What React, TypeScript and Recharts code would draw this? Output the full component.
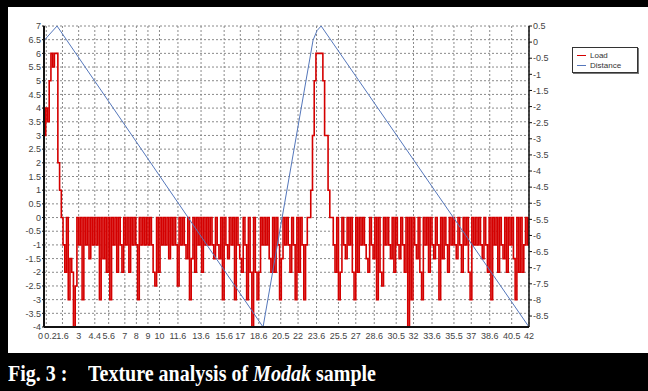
import React from 'react';
import { ComposedChart, Line, XAxis, YAxis, CartesianGrid } from 'recharts';

// Load (left axis), sampled every SAMPLE_STEP seconds
const LOAD: number[] = [
  3, 4, 3.5, 5, 6, 5.5, 6, 6, 2, 1,
  0, -1, -2, 0, -3, -1.5, -2, -4, -2.5, 0,
  -1, 0, -3, 0, -1, 0, -1.5, 0, -1, 0,
  -1, 0, -3, 0, -1.5, 0, -2, 0, -3, 0,
  -1, 0, -2, 0, -1, -2, 0, -1, 0, -2,
  0, -1, 0, -1, -3, 0, -1, 0, -1, 0,
  -1, 0, -1, -2, -2.5, 0, -2, 0, -1, 0,
  -1, 0, -1.5, 0, -1, 0, -1, -2.5, 0, -1,
  0, -1, -1.5, 0, -3, -1.5, 0, -2, 0, -1,
  0, -2, 0, -1, 0, -1, 0, -1, -1.5, 0,
  -1, -1.5, 0, -3, 0, -1, -1.5, 0, -1, 0,
  -3, 0, -1, -1.5, -2, 0, -1, -3, 0, -2,
  -4, 0, -2, -3, -2, 0, -1, 0, -1, 0,
  -1.5, -2, 0, -2, 0, -1, -3, -1.5, 0, -1,
  0, -1, -2, 0, -1, -3, 0, -2, 0, -1,
  -3, -1, 0, 0, 1, 3, 5, 6, 6, 6,
  6, 5, 3, 3, 1, 0, 0, -1, -2, 0,
  -3, -2, 0, -1, -1.5, 0, -1, 0, -2, -3,
  0, -2, 0, -1, 0, -1, -1.5, -2, 0, -1,
  -1.5, 0, -3, 0, -2, -2.5, 0, -1, 0, -1,
  -1.5, 0, -2, 0, -1, -1.5, 0, -1, -2, 0,
  -4, 0, -3, 0, -1, -1.5, 0, -2, -3, 0,
  -1, 0, -2, 0, -1, -1.5, 0, -1, -3, 0,
  -1.5, 0, -1, -2, 0, -1, 0, -1, -1.5, 0,
  -1, -2, 0, -1, 0, -2, -3, 0, -1, 0,
  -1, 0, -1, -1.5, 0, -1, -2, 0, -3, 0,
  -1, 0, -2, 0, -1, -1.5, 0, -2, 0, -1,
  0, -1.5, -3, 0, -2, 0, -2, -1, 0, -1,
  0,
];
const SAMPLE_STEP = 0.15;

// Distance (right axis)
const DIST_TIME: number[] = [0, 1.13, 18.97, 23.3, 23.65, 24.0, 42];
const DIST_VALUE: number[] = [0.05, 0.5, -8.84, 0.06, 0.36, 0.5, -8.84];

const X_TICKS: number[] = [0, 0.2, 1.6, 3, 4.4, 5.6, 7, 8, 9, 10, 11.6, 13.6, 15.6, 17, 18.6, 20.5, 22, 23.6, 25.5, 27, 28.6, 30.5, 32, 33.6, 35.5, 37, 38.6, 40.5, 42];
const LEFT_TICKS: number[] = [7, 6.5, 6, 5.5, 5, 4.5, 4, 3.5, 3, 2.5, 2, 1.5, 1, 0.5, 0, -0.5, -1, -1.5, -2, -2.5, -3, -3.5, -4];
const RIGHT_TICKS: number[] = [0.5, 0, -0.5, -1, -1.5, -2, -2.5, -3, -3.5, -4, -4.5, -5, -5.5, -6, -6.5, -7, -7.5, -8, -8.5];

const FONT = 'Liberation Sans, Arial, sans-serif';
const tickStyle = { fill: '#444', fontSize: 9, fontFamily: FONT };

const XTick = (props: any) => {
  const { x, y, payload } = props;
  const v = payload.value;
  let anchor: 'middle' | 'end' | 'start' = 'middle';
  let dx = 0;
  if (v === 0) { anchor = 'end'; dx = -1; }
  if (v === 0.2) { anchor = 'start'; dx = -2; }
  return (
    <text x={x + dx} y={y} dy="0.71em" textAnchor={anchor} fill="#444" fontSize={9} fontFamily={FONT}>
      {String(v)}
    </text>
  );
};

const captionStyle: React.CSSProperties = {
  position: 'absolute',
  top: 362,
  color: '#fff',
  fontFamily: 'Liberation Serif, Times New Roman, serif',
  fontWeight: 'bold',
  fontSize: 23,
  lineHeight: '23px',
  whiteSpace: 'nowrap',
  transform: 'scaleX(0.87)',
  transformOrigin: 'left top',
};

export default function App() {
  const loadData = LOAD.map((v, i) => ({ t: Math.round(i * SAMPLE_STEP * 100) / 100, load: v }));
  const distData = DIST_TIME.map((t, i) => ({ t, distance: DIST_VALUE[i] }));
  return (
    <div style={{ position: 'fixed', left: 0, top: 0, width: 648, height: 391, background: '#000', overflow: 'hidden' }}>
      <div style={{ position: 'absolute', left: 8, top: 7, width: 640, height: 346, background: '#fff' }} />
      <div style={{ position: 'absolute', left: 0, top: 0 }}>
        <ComposedChart width={648} height={353} margin={{ top: 26, right: 79, bottom: 6, left: 8 }}>
          <CartesianGrid yAxisId="left" stroke="#8a8a8a" strokeDasharray="2 2" />
          <XAxis
            dataKey="t"
            type="number"
            domain={[0, 42]}
            ticks={X_TICKS}
            interval={0}
            allowDataOverflow
            height={20}
            tickLine={false}
            tickSize={2}
            tickMargin={4}
            axisLine={{ stroke: '#111', strokeWidth: 2 }}
            tick={<XTick />}
          />
          <YAxis
            yAxisId="left"
            domain={[-4, 7]}
            ticks={LEFT_TICKS}
            interval={0}
            allowDataOverflow
            width={36}
            tickSize={2}
            tickMargin={1}
            axisLine={{ stroke: '#111', strokeWidth: 2 }}
            tickLine={{ stroke: '#111' }}
            tick={tickStyle}
          />
          <YAxis
            yAxisId="right"
            orientation="right"
            domain={[-8.84, 0.5]}
            ticks={RIGHT_TICKS}
            interval={0}
            allowDataOverflow
            width={40}
            tickSize={3}
            tickMargin={1}
            axisLine={{ stroke: '#111', strokeWidth: 1.5 }}
            tickLine={{ stroke: '#111' }}
            tick={tickStyle}
          />
          <Line
            data={loadData}
            dataKey="load"
            name="Load"
            yAxisId="left"
            type="stepAfter"
            stroke="#d40000"
            strokeWidth={1.6}
            dot={false}
            isAnimationActive={false}
          />
          <Line
            data={distData}
            dataKey="distance"
            name="Distance"
            yAxisId="right"
            type="linear"
            stroke="#5577bb"
            strokeWidth={1}
            dot={false}
            isAnimationActive={false}
          />
        </ComposedChart>
      </div>
      <div
        style={{
          position: 'absolute',
          left: 572,
          top: 47,
          width: 64,
          height: 24,
          background: '#fff',
          border: '1px solid #333',
          boxShadow: '1px 1px 0 #777',
          fontFamily: FONT,
          fontSize: 8,
          color: '#333',
        }}
      >
        <div style={{ position: 'absolute', left: 4, top: 3, display: 'flex', alignItems: 'center' }}>
          <span style={{ display: 'inline-block', width: 9, height: 1, background: '#d40000', marginRight: 4 }} />
          <span>Load</span>
        </div>
        <div style={{ position: 'absolute', left: 4, top: 13, display: 'flex', alignItems: 'center' }}>
          <span style={{ display: 'inline-block', width: 9, height: 1, background: '#5577bb', marginRight: 4 }} />
          <span>Distance</span>
        </div>
      </div>
      <div style={{ ...captionStyle, left: 8 }}>Fig. 3 :</div>
      <div style={{ ...captionStyle, left: 88 }}>
        Texture analysis of <i>Modak</i> sample
      </div>
    </div>
  );
}
